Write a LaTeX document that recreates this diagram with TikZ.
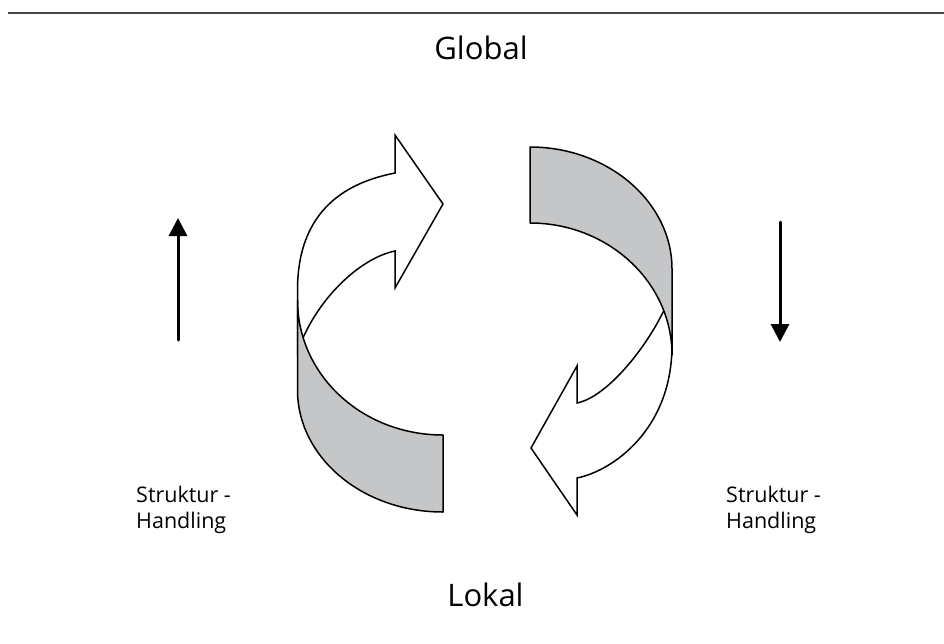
\documentclass[tikz,border=0pt]{standalone}
\usepackage{fontspec}
\setmainfont{Open Sans}
\usetikzlibrary{arrows.meta}
\definecolor{bandgray}{RGB}{197,198,200}
\definecolor{rulegray}{RGB}{70,70,70}
\begin{document}
\begin{tikzpicture}[x=1pt,y=-1pt,
  outline/.style={draw=black, line width=1.5pt, line join=miter},
  whitepart/.style={outline, fill=white},
  graypart/.style={outline, fill=bandgray, line join=round},
  flow/.style={line width=3pt, line cap=round, -{Triangle[width=18pt,length=18pt]}},
  headtext/.style={font=\fontsize{31}{36}\selectfont, inner sep=0pt, anchor=base},
  sidetext/.style={font=\fontsize{21.5}{26}\selectfont, inner sep=0pt, anchor=base west}]
\useasboundingbox (0,0) rectangle (944,643);
\coordinate (ruleL) at (8,13);
\coordinate (ruleR) at (944,13);
\draw[rulegray, line width=1.5pt] (ruleL) -- (ruleR);
\node[headtext] (global) at (481,59) {Global};
\node[headtext] (lokal) at (485.5,606) {Lokal};
% left white arrow
\path[whitepart] (395,173) .. controls (360,180) and (297.5,200) .. (297.5,290) -- (297.5,352)
  .. controls (315,300) and (360,258) .. (395,251) -- (395,288) -- (443,204) -- (395,135) -- cycle;
% left gray band
\path[graypart] (443,435) .. controls (362,435) and (297.5,375) .. (297.5,300) -- (297.5,390)
  .. controls (297.5,457) and (362,512) .. (443,512) -- cycle;
% right white arrow
\path[whitepart] (577,478) .. controls (612,471) and (672,430) .. (672,345) -- (672,290)
  .. controls (660,330) and (612,396) .. (577,403) -- (577,366) -- (531,448) -- (577,515) -- cycle;
% right gray band
\path[graypart] (530,223) .. controls (608,223) and (672,282) .. (672,355) -- (672,269)
  .. controls (672,202) and (608,147) .. (530,147) -- cycle;
% side flow arrows
\coordinate (upS) at (178,340);
\coordinate (upE) at (178,218);
\draw[flow] (upS) -- (upE);
\coordinate (dnS) at (780,222);
\coordinate (dnE) at (780,342);
\draw[flow] (dnS) -- (dnE);
% labels
\node[sidetext] (sl1) at (136,502) {Struktur -};
\node[sidetext] (sl2) at (136,528) {Handling};
\node[sidetext] (sr1) at (726,502) {Struktur -};
\node[sidetext] (sr2) at (726,528) {Handling};
\end{tikzpicture}
\end{document}
